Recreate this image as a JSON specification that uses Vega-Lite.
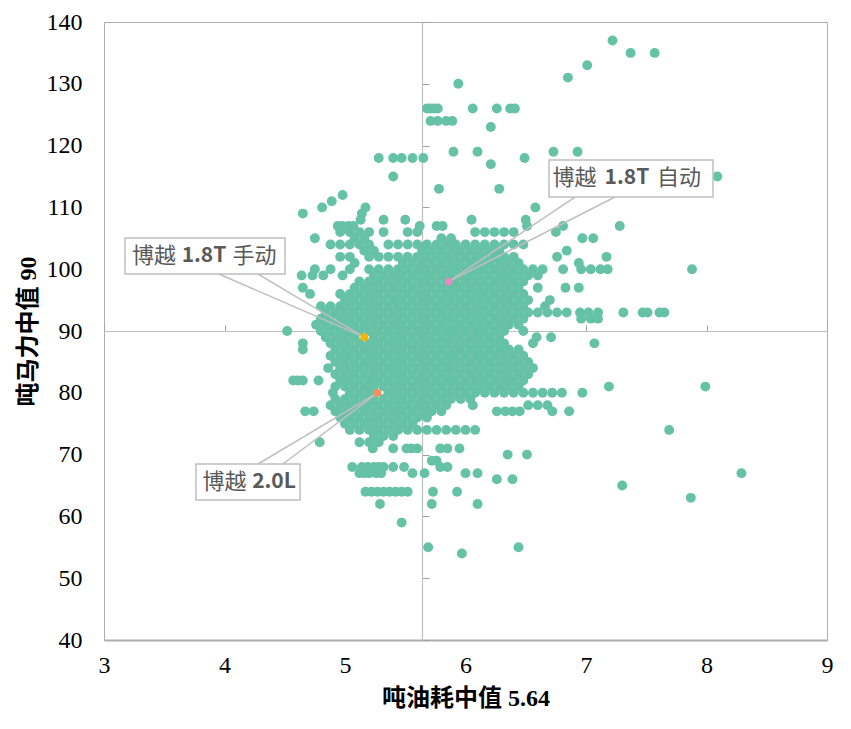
{
  "$schema": "https://vega.github.io/schema/vega-lite/v6.json",
  "description": "吨油耗中值 vs 吨马力中值 scatter with Boyue highlights",
  "autosize": {"type": "none"},
  "padding": {"left": 104, "top": 22, "right": 24, "bottom": 89},
  "width": 723,
  "height": 618,
  "background": "white",
  "config": {
    "view": {"stroke": "#ADADAD", "strokeWidth": 1},
    "axis": {"grid": false}
  },
  "datasets": {
    "pts": [
      {"x":7.22,"y":137},{"x":7.37,"y":135},{"x":7.57,"y":135},{"x":7.01,"y":133},{"x":6.85,"y":131},{"x":5.94,"y":130},
      {"x":5.68,"y":126},{"x":5.71,"y":126},{"x":5.74,"y":126},{"x":5.77,"y":126},{"x":6.06,"y":126},{"x":6.26,"y":126},{"x":6.37,"y":126},{"x":6.41,"y":126},
      {"x":5.71,"y":124},{"x":5.77,"y":124},{"x":5.84,"y":124},{"x":5.89,"y":124},{"x":6.21,"y":123},
      {"x":5.90,"y":119},{"x":6.10,"y":119},{"x":6.73,"y":119},{"x":6.93,"y":119},
      {"x":5.28,"y":118},{"x":5.40,"y":118},{"x":5.47,"y":118},{"x":5.56,"y":118},{"x":5.65,"y":118},{"x":6.49,"y":118},
      {"x":6.21,"y":117},{"x":5.40,"y":115},{"x":8.09,"y":115},{"x":5.78,"y":113},{"x":6.28,"y":113},
      {"x":4.98,"y":112},{"x":4.89,"y":111},{"x":4.81,"y":110},{"x":5.17,"y":110},{"x":6.58,"y":110},
      {"x":4.65,"y":109},{"x":5.14,"y":109},
      {"x":5.13,"y":108},{"x":5.32,"y":108},{"x":5.50,"y":108},{"x":6.05,"y":108},{"x":6.50,"y":108},
      {"x":4.94,"y":107},{"x":4.98,"y":107},{"x":5.03,"y":107},{"x":5.07,"y":107},{"x":5.62,"y":107},{"x":5.76,"y":107},{"x":5.81,"y":107},{"x":6.51,"y":107},{"x":6.81,"y":107},{"x":7.28,"y":107},
      {"x":4.96,"y":106},{"x":5.04,"y":106},{"x":5.12,"y":106},{"x":5.20,"y":106},{"x":5.32,"y":106},{"x":5.52,"y":106},{"x":5.60,"y":106},{"x":6.08,"y":106},{"x":6.16,"y":106},{"x":6.24,"y":106},{"x":6.32,"y":106},{"x":6.40,"y":106},{"x":6.75,"y":106},
      {"x":4.75,"y":105},{"x":5.08,"y":105},{"x":5.16,"y":105},{"x":5.80,"y":105},{"x":5.88,"y":105},{"x":6.97,"y":105},{"x":7.06,"y":105},
      {"x":4.88,"y":104},{"x":4.96,"y":104},{"x":5.04,"y":104},{"x":5.12,"y":104},{"x":5.20,"y":104},{"x":5.36,"y":104},{"x":5.44,"y":104},{"x":5.52,"y":104},{"x":5.60,"y":104},{"x":5.68,"y":104},{"x":5.76,"y":104},{"x":5.84,"y":104},{"x":5.92,"y":104},{"x":6.00,"y":104},{"x":6.08,"y":104},{"x":6.16,"y":104},{"x":6.24,"y":104},{"x":6.32,"y":104},{"x":6.40,"y":104},{"x":6.48,"y":104},
      {"x":5.16,"y":103},{"x":5.24,"y":103},{"x":5.64,"y":103},{"x":5.72,"y":103},{"x":5.80,"y":103},{"x":5.88,"y":103},{"x":5.96,"y":103},{"x":6.04,"y":103},{"x":6.12,"y":103},{"x":6.20,"y":103},{"x":6.28,"y":103},{"x":6.84,"y":103},
      {"x":4.96,"y":102},{"x":5.04,"y":102},{"x":5.20,"y":102},{"x":5.28,"y":102},{"x":5.36,"y":102},{"x":5.44,"y":102},{"x":5.52,"y":102},{"x":5.60,"y":102},{"x":5.68,"y":102},{"x":5.76,"y":102},{"x":5.84,"y":102},{"x":5.92,"y":102},{"x":6.00,"y":102},{"x":6.08,"y":102},{"x":6.16,"y":102},{"x":6.24,"y":102},{"x":6.32,"y":102},{"x":6.40,"y":102},{"x":6.76,"y":102},{"x":7.17,"y":102},
      {"x":5.08,"y":101},{"x":5.48,"y":101},{"x":5.56,"y":101},{"x":5.64,"y":101},{"x":5.72,"y":101},{"x":5.80,"y":101},{"x":5.88,"y":101},{"x":5.96,"y":101},{"x":6.04,"y":101},{"x":6.12,"y":101},{"x":6.20,"y":101},{"x":6.28,"y":101},{"x":6.36,"y":101},{"x":6.44,"y":101},{"x":6.94,"y":101},
      {"x":4.75,"y":100},{"x":4.88,"y":100},{"x":5.04,"y":100},{"x":5.20,"y":100},{"x":5.28,"y":100},{"x":5.36,"y":100},{"x":5.44,"y":100},{"x":5.52,"y":100},{"x":5.60,"y":100},{"x":5.68,"y":100},{"x":5.76,"y":100},{"x":5.84,"y":100},{"x":5.92,"y":100},{"x":6.00,"y":100},{"x":6.08,"y":100},{"x":6.16,"y":100},{"x":6.24,"y":100},{"x":6.32,"y":100},{"x":6.40,"y":100},{"x":6.48,"y":100},{"x":6.56,"y":100},{"x":6.64,"y":100},{"x":6.81,"y":100},{"x":6.96,"y":100},{"x":7.04,"y":100},{"x":7.12,"y":100},{"x":7.18,"y":100},{"x":7.88,"y":100},
      {"x":4.64,"y":99},{"x":4.73,"y":99},{"x":4.82,"y":99},{"x":4.98,"y":99},{"x":5.24,"y":99},{"x":5.32,"y":99},{"x":5.40,"y":99},{"x":5.48,"y":99},{"x":5.56,"y":99},{"x":5.64,"y":99},{"x":5.72,"y":99},{"x":5.80,"y":99},{"x":5.88,"y":99},{"x":5.96,"y":99},{"x":6.04,"y":99},{"x":6.12,"y":99},{"x":6.20,"y":99},{"x":6.28,"y":99},{"x":6.36,"y":99},{"x":6.44,"y":99},{"x":6.52,"y":99},{"x":6.60,"y":99},
      {"x":5.12,"y":98},{"x":5.20,"y":98},{"x":5.28,"y":98},{"x":5.36,"y":98},{"x":5.44,"y":98},{"x":5.52,"y":98},{"x":5.60,"y":98},{"x":5.68,"y":98},{"x":5.76,"y":98},{"x":5.84,"y":98},{"x":5.92,"y":98},{"x":6.00,"y":98},{"x":6.08,"y":98},{"x":6.16,"y":98},{"x":6.24,"y":98},{"x":6.32,"y":98},{"x":6.40,"y":98},{"x":6.48,"y":98},
      {"x":4.65,"y":97},{"x":5.08,"y":97},{"x":5.16,"y":97},{"x":5.24,"y":97},{"x":5.32,"y":97},{"x":5.40,"y":97},{"x":5.48,"y":97},{"x":5.56,"y":97},{"x":5.64,"y":97},{"x":5.72,"y":97},{"x":5.80,"y":97},{"x":5.88,"y":97},{"x":5.96,"y":97},{"x":6.04,"y":97},{"x":6.12,"y":97},{"x":6.20,"y":97},{"x":6.28,"y":97},{"x":6.36,"y":97},{"x":6.44,"y":97},{"x":6.60,"y":97},{"x":6.83,"y":97},{"x":6.94,"y":97},
      {"x":4.71,"y":96},{"x":4.96,"y":96},{"x":5.04,"y":96},{"x":5.12,"y":96},{"x":5.20,"y":96},{"x":5.28,"y":96},{"x":5.36,"y":96},{"x":5.44,"y":96},{"x":5.52,"y":96},{"x":5.60,"y":96},{"x":5.68,"y":96},{"x":5.76,"y":96},{"x":5.84,"y":96},{"x":5.92,"y":96},{"x":6.00,"y":96},{"x":6.08,"y":96},{"x":6.16,"y":96},{"x":6.24,"y":96},{"x":6.32,"y":96},{"x":6.40,"y":96},{"x":6.48,"y":96},
      {"x":5.00,"y":95},{"x":5.08,"y":95},{"x":5.16,"y":95},{"x":5.24,"y":95},{"x":5.32,"y":95},{"x":5.40,"y":95},{"x":5.48,"y":95},{"x":5.56,"y":95},{"x":5.64,"y":95},{"x":5.72,"y":95},{"x":5.80,"y":95},{"x":5.88,"y":95},{"x":5.96,"y":95},{"x":6.04,"y":95},{"x":6.12,"y":95},{"x":6.20,"y":95},{"x":6.28,"y":95},{"x":6.36,"y":95},{"x":6.44,"y":95},{"x":6.52,"y":95},{"x":6.70,"y":95},
      {"x":4.80,"y":94},{"x":4.88,"y":94},{"x":4.96,"y":94},{"x":5.04,"y":94},{"x":5.12,"y":94},{"x":5.20,"y":94},{"x":5.28,"y":94},{"x":5.36,"y":94},{"x":5.44,"y":94},{"x":5.52,"y":94},{"x":5.60,"y":94},{"x":5.68,"y":94},{"x":5.76,"y":94},{"x":5.84,"y":94},{"x":5.92,"y":94},{"x":6.00,"y":94},{"x":6.08,"y":94},{"x":6.16,"y":94},{"x":6.24,"y":94},{"x":6.32,"y":94},{"x":6.40,"y":94},{"x":6.48,"y":94},{"x":6.66,"y":94},
      {"x":4.84,"y":93},{"x":4.92,"y":93},{"x":5.00,"y":93},{"x":5.08,"y":93},{"x":5.16,"y":93},{"x":5.24,"y":93},{"x":5.32,"y":93},{"x":5.40,"y":93},{"x":5.48,"y":93},{"x":5.56,"y":93},{"x":5.64,"y":93},{"x":5.72,"y":93},{"x":5.80,"y":93},{"x":5.88,"y":93},{"x":5.96,"y":93},{"x":6.04,"y":93},{"x":6.12,"y":93},{"x":6.20,"y":93},{"x":6.28,"y":93},{"x":6.36,"y":93},{"x":6.44,"y":93},{"x":6.52,"y":93},{"x":6.60,"y":93},{"x":6.68,"y":93},{"x":6.76,"y":93},{"x":6.84,"y":93},{"x":6.95,"y":93},{"x":7.02,"y":93},{"x":7.10,"y":93},{"x":7.31,"y":93},{"x":7.47,"y":93},{"x":7.51,"y":93},{"x":7.61,"y":93},{"x":7.65,"y":93},
      {"x":4.80,"y":92},{"x":4.88,"y":92},{"x":4.96,"y":92},{"x":5.04,"y":92},{"x":5.12,"y":92},{"x":5.20,"y":92},{"x":5.28,"y":92},{"x":5.36,"y":92},{"x":5.44,"y":92},{"x":5.52,"y":92},{"x":5.60,"y":92},{"x":5.68,"y":92},{"x":5.76,"y":92},{"x":5.84,"y":92},{"x":5.92,"y":92},{"x":6.00,"y":92},{"x":6.08,"y":92},{"x":6.16,"y":92},{"x":6.24,"y":92},{"x":6.32,"y":92},{"x":6.40,"y":92},{"x":6.48,"y":92},{"x":6.96,"y":92},{"x":7.04,"y":92},{"x":7.10,"y":92},
      {"x":4.76,"y":91},{"x":4.84,"y":91},{"x":4.92,"y":91},{"x":5.00,"y":91},{"x":5.08,"y":91},{"x":5.16,"y":91},{"x":5.24,"y":91},{"x":5.32,"y":91},{"x":5.40,"y":91},{"x":5.48,"y":91},{"x":5.56,"y":91},{"x":5.64,"y":91},{"x":5.72,"y":91},{"x":5.80,"y":91},{"x":5.88,"y":91},{"x":5.96,"y":91},{"x":6.04,"y":91},{"x":6.12,"y":91},{"x":6.20,"y":91},{"x":6.28,"y":91},{"x":6.36,"y":91},{"x":6.44,"y":91},
      {"x":4.52,"y":90},{"x":4.80,"y":90},{"x":4.88,"y":90},{"x":4.96,"y":90},{"x":5.04,"y":90},{"x":5.12,"y":90},{"x":5.20,"y":90},{"x":5.28,"y":90},{"x":5.36,"y":90},{"x":5.44,"y":90},{"x":5.52,"y":90},{"x":5.60,"y":90},{"x":5.68,"y":90},{"x":5.76,"y":90},{"x":5.84,"y":90},{"x":5.92,"y":90},{"x":6.00,"y":90},{"x":6.08,"y":90},{"x":6.16,"y":90},{"x":6.24,"y":90},{"x":6.32,"y":90},{"x":6.48,"y":90},
      {"x":4.84,"y":89},{"x":4.92,"y":89},{"x":5.00,"y":89},{"x":5.08,"y":89},{"x":5.24,"y":89},{"x":5.32,"y":89},{"x":5.40,"y":89},{"x":5.48,"y":89},{"x":5.56,"y":89},{"x":5.64,"y":89},{"x":5.72,"y":89},{"x":5.80,"y":89},{"x":5.88,"y":89},{"x":5.96,"y":89},{"x":6.04,"y":89},{"x":6.12,"y":89},{"x":6.20,"y":89},{"x":6.28,"y":89},{"x":6.59,"y":89},{"x":6.71,"y":89},
      {"x":4.65,"y":88},{"x":4.88,"y":88},{"x":4.96,"y":88},{"x":5.04,"y":88},{"x":5.12,"y":88},{"x":5.20,"y":88},{"x":5.28,"y":88},{"x":5.36,"y":88},{"x":5.44,"y":88},{"x":5.52,"y":88},{"x":5.60,"y":88},{"x":5.68,"y":88},{"x":5.76,"y":88},{"x":5.84,"y":88},{"x":5.92,"y":88},{"x":6.00,"y":88},{"x":6.08,"y":88},{"x":6.16,"y":88},{"x":6.24,"y":88},{"x":6.32,"y":88},{"x":6.56,"y":88},{"x":7.07,"y":88},
      {"x":4.65,"y":87},{"x":4.92,"y":87},{"x":5.00,"y":87},{"x":5.08,"y":87},{"x":5.16,"y":87},{"x":5.24,"y":87},{"x":5.32,"y":87},{"x":5.40,"y":87},{"x":5.48,"y":87},{"x":5.56,"y":87},{"x":5.64,"y":87},{"x":5.72,"y":87},{"x":5.80,"y":87},{"x":5.88,"y":87},{"x":5.96,"y":87},{"x":6.04,"y":87},{"x":6.12,"y":87},{"x":6.20,"y":87},{"x":6.28,"y":87},{"x":6.36,"y":87},{"x":6.44,"y":87},
      {"x":4.88,"y":86},{"x":4.96,"y":86},{"x":5.04,"y":86},{"x":5.12,"y":86},{"x":5.20,"y":86},{"x":5.28,"y":86},{"x":5.36,"y":86},{"x":5.44,"y":86},{"x":5.52,"y":86},{"x":5.60,"y":86},{"x":5.68,"y":86},{"x":5.76,"y":86},{"x":5.84,"y":86},{"x":5.92,"y":86},{"x":6.00,"y":86},{"x":6.08,"y":86},{"x":6.16,"y":86},{"x":6.24,"y":86},{"x":6.32,"y":86},{"x":6.40,"y":86},{"x":6.48,"y":86},
      {"x":4.92,"y":85},{"x":5.00,"y":85},{"x":5.08,"y":85},{"x":5.16,"y":85},{"x":5.24,"y":85},{"x":5.32,"y":85},{"x":5.40,"y":85},{"x":5.48,"y":85},{"x":5.56,"y":85},{"x":5.64,"y":85},{"x":5.72,"y":85},{"x":5.80,"y":85},{"x":5.88,"y":85},{"x":5.96,"y":85},{"x":6.04,"y":85},{"x":6.12,"y":85},{"x":6.20,"y":85},{"x":6.28,"y":85},{"x":6.36,"y":85},{"x":6.44,"y":85},{"x":6.52,"y":85},
      {"x":4.86,"y":84},{"x":4.96,"y":84},{"x":5.04,"y":84},{"x":5.12,"y":84},{"x":5.20,"y":84},{"x":5.28,"y":84},{"x":5.36,"y":84},{"x":5.44,"y":84},{"x":5.52,"y":84},{"x":5.60,"y":84},{"x":5.68,"y":84},{"x":5.76,"y":84},{"x":5.84,"y":84},{"x":5.92,"y":84},{"x":6.00,"y":84},{"x":6.08,"y":84},{"x":6.16,"y":84},{"x":6.24,"y":84},{"x":6.32,"y":84},{"x":6.40,"y":84},{"x":6.48,"y":84},{"x":6.56,"y":84},
      {"x":4.92,"y":83},{"x":5.00,"y":83},{"x":5.08,"y":83},{"x":5.16,"y":83},{"x":5.24,"y":83},{"x":5.32,"y":83},{"x":5.40,"y":83},{"x":5.48,"y":83},{"x":5.56,"y":83},{"x":5.64,"y":83},{"x":5.72,"y":83},{"x":5.80,"y":83},{"x":5.88,"y":83},{"x":5.96,"y":83},{"x":6.04,"y":83},{"x":6.12,"y":83},{"x":6.20,"y":83},{"x":6.28,"y":83},{"x":6.36,"y":83},{"x":6.44,"y":83},{"x":6.52,"y":83},
      {"x":4.57,"y":82},{"x":4.61,"y":82},{"x":4.65,"y":82},{"x":4.78,"y":82},{"x":4.96,"y":82},{"x":5.04,"y":82},{"x":5.12,"y":82},{"x":5.20,"y":82},{"x":5.28,"y":82},{"x":5.36,"y":82},{"x":5.44,"y":82},{"x":5.52,"y":82},{"x":5.60,"y":82},{"x":5.68,"y":82},{"x":5.76,"y":82},{"x":5.84,"y":82},{"x":5.92,"y":82},{"x":6.00,"y":82},{"x":6.08,"y":82},{"x":6.16,"y":82},{"x":6.24,"y":82},{"x":6.32,"y":82},{"x":6.40,"y":82},{"x":6.48,"y":82},
      {"x":4.92,"y":81},{"x":5.00,"y":81},{"x":5.08,"y":81},{"x":5.16,"y":81},{"x":5.24,"y":81},{"x":5.32,"y":81},{"x":5.40,"y":81},{"x":5.48,"y":81},{"x":5.56,"y":81},{"x":5.64,"y":81},{"x":5.72,"y":81},{"x":5.80,"y":81},{"x":5.88,"y":81},{"x":5.96,"y":81},{"x":6.04,"y":81},{"x":6.12,"y":81},{"x":6.20,"y":81},{"x":6.28,"y":81},{"x":6.36,"y":81},{"x":6.44,"y":81},{"x":7.19,"y":81},{"x":7.99,"y":81},
      {"x":4.90,"y":80},{"x":5.04,"y":80},{"x":5.12,"y":80},{"x":5.20,"y":80},{"x":5.36,"y":80},{"x":5.44,"y":80},{"x":5.52,"y":80},{"x":5.60,"y":80},{"x":5.68,"y":80},{"x":5.76,"y":80},{"x":5.84,"y":80},{"x":5.92,"y":80},{"x":6.00,"y":80},{"x":6.08,"y":80},{"x":6.16,"y":80},{"x":6.24,"y":80},{"x":6.32,"y":80},{"x":6.40,"y":80},{"x":6.48,"y":80},{"x":6.56,"y":80},{"x":6.64,"y":80},{"x":6.72,"y":80},{"x":6.80,"y":80},{"x":6.97,"y":80},
      {"x":4.92,"y":79},{"x":5.00,"y":79},{"x":5.08,"y":79},{"x":5.16,"y":79},{"x":5.24,"y":79},{"x":5.32,"y":79},{"x":5.40,"y":79},{"x":5.48,"y":79},{"x":5.56,"y":79},{"x":5.64,"y":79},{"x":5.72,"y":79},{"x":5.80,"y":79},{"x":5.88,"y":79},{"x":5.96,"y":79},{"x":6.04,"y":79},
      {"x":4.88,"y":78},{"x":4.96,"y":78},{"x":5.04,"y":78},{"x":5.12,"y":78},{"x":5.20,"y":78},{"x":5.28,"y":78},{"x":5.36,"y":78},{"x":5.44,"y":78},{"x":5.52,"y":78},{"x":5.60,"y":78},{"x":5.68,"y":78},{"x":5.76,"y":78},{"x":5.84,"y":78},{"x":6.06,"y":78},{"x":6.52,"y":78},{"x":6.60,"y":78},{"x":6.68,"y":78},
      {"x":4.67,"y":77},{"x":4.74,"y":77},{"x":4.92,"y":77},{"x":5.00,"y":77},{"x":5.08,"y":77},{"x":5.16,"y":77},{"x":5.24,"y":77},{"x":5.32,"y":77},{"x":5.40,"y":77},{"x":5.48,"y":77},{"x":5.56,"y":77},{"x":5.64,"y":77},{"x":5.72,"y":77},{"x":5.80,"y":77},{"x":6.26,"y":77},{"x":6.33,"y":77},{"x":6.39,"y":77},{"x":6.45,"y":77},{"x":6.72,"y":77},{"x":6.86,"y":77},
      {"x":4.96,"y":76},{"x":5.04,"y":76},{"x":5.12,"y":76},{"x":5.20,"y":76},{"x":5.28,"y":76},{"x":5.36,"y":76},{"x":5.44,"y":76},{"x":5.52,"y":76},{"x":5.60,"y":76},{"x":5.68,"y":76},
      {"x":5.00,"y":75},{"x":5.08,"y":75},{"x":5.16,"y":75},{"x":5.24,"y":75},{"x":5.32,"y":75},{"x":5.40,"y":75},{"x":5.48,"y":75},{"x":5.56,"y":75},
      {"x":5.04,"y":74},{"x":5.12,"y":74},{"x":5.20,"y":74},{"x":5.28,"y":74},{"x":5.36,"y":74},{"x":5.44,"y":74},{"x":5.52,"y":74},{"x":5.60,"y":74},{"x":5.68,"y":74},{"x":5.76,"y":74},{"x":5.84,"y":74},{"x":5.92,"y":74},{"x":6.00,"y":74},{"x":6.08,"y":74},{"x":7.69,"y":74},
      {"x":5.24,"y":73},{"x":5.32,"y":73},{"x":5.40,"y":73},
      {"x":4.79,"y":72},{"x":5.12,"y":72},{"x":5.20,"y":72},{"x":5.28,"y":72},
      {"x":5.23,"y":71},{"x":5.40,"y":71},{"x":5.51,"y":71},{"x":5.55,"y":71},{"x":5.60,"y":71},{"x":5.79,"y":71},{"x":5.85,"y":71},{"x":5.95,"y":71},
      {"x":6.35,"y":70},{"x":6.51,"y":70},{"x":5.72,"y":69},{"x":5.76,"y":69},
      {"x":5.06,"y":68},{"x":5.14,"y":68},{"x":5.19,"y":68},{"x":5.24,"y":68},{"x":5.28,"y":68},{"x":5.32,"y":68},{"x":5.40,"y":68},{"x":5.49,"y":68},{"x":5.79,"y":68},{"x":5.85,"y":68},
      {"x":5.12,"y":67},{"x":5.16,"y":67},{"x":5.20,"y":67},{"x":5.26,"y":67},{"x":5.30,"y":67},{"x":5.56,"y":67},{"x":5.66,"y":67},{"x":6.00,"y":67},{"x":6.10,"y":67},{"x":8.29,"y":67},
      {"x":6.26,"y":66},{"x":6.39,"y":66},{"x":7.30,"y":65},
      {"x":5.17,"y":64},{"x":5.22,"y":64},{"x":5.27,"y":64},{"x":5.32,"y":64},{"x":5.37,"y":64},{"x":5.42,"y":64},{"x":5.47,"y":64},{"x":5.52,"y":64},{"x":5.73,"y":64},{"x":5.93,"y":64},
      {"x":7.87,"y":63},{"x":5.29,"y":62},{"x":5.72,"y":62},{"x":6.10,"y":62},
      {"x":5.47,"y":59},{"x":5.69,"y":55},{"x":6.44,"y":55},{"x":5.97,"y":54}
    ],
    "highlight": [
      {"x":5.16,"y":89,"name":"博越 1.8T 手动"},
      {"x":5.27,"y":80,"name":"博越 2.0L"},
      {"x":5.86,"y":98,"name":"博越 1.8T 自动"}
    ],
    "boxes": [
      {"label":"博越 1.8T 手动","x1":3.174,"x2":4.502,"y1":105.05,"y2":99.22},
      {"label":"博越 2.0L","x1":3.763,"x2":4.627,"y1":68.48,"y2":62.65},
      {"label":"博越 1.8T 自动","x1":6.693,"x2":8.054,"y1":117.67,"y2":111.68}
    ],
    "labelparts": [
      {"t":"博越","x":3.415,"y":102.1,"bold":false},
      {"t":"1.8T","x":3.830,"y":102.1,"bold":true},
      {"t":"手动","x":4.249,"y":102.1,"bold":false},
      {"t":"博越","x":4.000,"y":65.57,"bold":false},
      {"t":"2.0L","x":4.411,"y":65.57,"bold":true},
      {"t":"博越","x":6.905,"y":114.76,"bold":false},
      {"t":"1.8T","x":7.340,"y":114.76,"bold":true},
      {"t":"自动","x":7.772,"y":114.76,"bold":false}
    ],
    "leaders": [
      {"x1":3.954,"y1":99.22,"x2":5.16,"y2":89},
      {"x1":4.278,"y1":99.22,"x2":5.16,"y2":89},
      {"x1":4.278,"y1":68.48,"x2":5.27,"y2":80},
      {"x1":4.485,"y1":68.48,"x2":5.27,"y2":80},
      {"x1":6.909,"y1":111.68,"x2":5.86,"y2":98},
      {"x1":7.241,"y1":111.68,"x2":5.86,"y2":98}
    ]
  },
  "resolve": {"axis": {"x": "independent", "y": "independent"}},
  "layer": [
    {
      "data": {"name": "pts"},
      "mark": {"type": "circle", "size": 98, "opacity": 1, "color": "#66C2A5"},
      "encoding": {
        "x": {
          "field": "x", "type": "quantitative",
          "scale": {"domain": [3, 9], "nice": false, "zero": false},
          "axis": {
            "orient": "bottom", "values": [3, 4, 5, 6, 7, 8, 9],
            "title": "吨油耗中值 5.64", "ticks": false, "labelFlush": false,
            "domain": true, "domainColor": "#ADADAD", "domainWidth": 2,
            "labelFont": "Liberation Serif", "labelFontSize": 24, "labelColor": "#000000", "labelPadding": 13,
            "titleFont": "Liberation Serif, Noto Sans CJK SC", "titleFontSize": 24, "titleFontWeight": "bold", "titleColor": "#000000", "titlePadding": 9
          }
        },
        "y": {
          "field": "y", "type": "quantitative",
          "scale": {"domain": [40, 140], "nice": false, "zero": false},
          "axis": {
            "orient": "left", "values": [40, 50, 60, 70, 80, 90, 100, 110, 120, 130, 140],
            "title": "吨马力中值 90", "ticks": false, "domain": false, "labelFlush": false,
            "labelFont": "Liberation Serif", "labelFontSize": 24, "labelColor": "#000000", "labelPadding": 22,
            "titleFont": "Liberation Serif, Noto Sans CJK SC", "titleFontSize": 24, "titleFontWeight": "bold", "titleColor": "#000000", "titlePadding": 6
          }
        }
      }
    },
    {
      "data": {"name": "leaders"},
      "mark": {"type": "rule", "color": "#BFBFBF", "strokeWidth": 1.5},
      "encoding": {
        "x": {
          "field": "x1", "type": "quantitative",
          "axis": {"orient": "top", "offset": -309, "labels": false, "title": null, "values": [3, 4, 5, 6, 7, 8, 9], "ticks": true, "tickSize": 6, "tickColor": "#A0A0A0", "domain": true, "domainColor": "#BFBFBF", "domainWidth": 1.2}
        },
        "y": {
          "field": "y1", "type": "quantitative",
          "axis": {"orient": "right", "offset": -405, "labels": false, "title": null, "values": [40, 50, 60, 70, 80, 90, 100, 110, 120, 130, 140], "ticks": true, "tickSize": 7, "tickColor": "#A0A0A0", "domain": true, "domainColor": "#BFBFBF", "domainWidth": 1.2}
        },
        "x2": {"field": "x2"},
        "y2": {"field": "y2"}
      }
    },
    {
      "data": {"name": "highlight"},
      "mark": {"type": "circle", "size": 60, "opacity": 1},
      "encoding": {
        "x": {"field": "x", "type": "quantitative", "axis": null},
        "y": {"field": "y", "type": "quantitative", "axis": null},
        "color": {
          "field": "name", "type": "nominal", "legend": null,
          "scale": {"domain": ["博越 1.8T 手动", "博越 2.0L", "博越 1.8T 自动"], "range": ["#F7B500", "#FC8D62", "#E78AC3"]}
        }
      }
    },
    {
      "data": {"name": "boxes"},
      "mark": {"type": "rect", "fill": "white", "stroke": "#BFBFBF", "strokeWidth": 1.5},
      "encoding": {
        "x": {"field": "x1", "type": "quantitative", "axis": null},
        "x2": {"field": "x2"},
        "y": {"field": "y1", "type": "quantitative", "axis": null},
        "y2": {"field": "y2"}
      }
    },
    {
      "data": {"name": "labelparts"},
      "transform": [{"filter": "!datum.bold"}],
      "mark": {"type": "text", "font": "Noto Sans CJK SC", "fontSize": 22, "color": "#595959", "align": "center", "baseline": "middle"},
      "encoding": {
        "x": {"field": "x", "type": "quantitative", "axis": null},
        "y": {"field": "y", "type": "quantitative", "axis": null},
        "text": {"field": "t"}
      }
    },
    {
      "data": {"name": "labelparts"},
      "transform": [{"filter": "datum.bold"}],
      "mark": {"type": "text", "font": "Noto Sans CJK SC", "fontSize": 21, "fontWeight": "bold", "color": "#595959", "align": "center", "baseline": "middle"},
      "encoding": {
        "x": {"field": "x", "type": "quantitative", "axis": null},
        "y": {"field": "y", "type": "quantitative", "axis": null},
        "text": {"field": "t"}
      }
    }
  ]
}
